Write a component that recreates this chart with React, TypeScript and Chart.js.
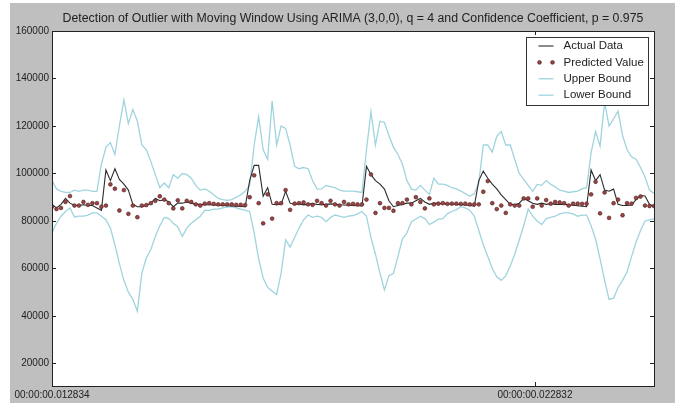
import React, { useEffect, useRef } from "react";
import { Chart, registerables } from "chart.js";

Chart.register(...registerables);

const TITLE =
  "Detection of Outlier with Moving Window Using ARIMA (3,0,0), q = 4 and Confidence Coefficient, p = 0.975";
const SERIES_NAMES = ["Actual Data", "Predicted Value", "Upper Bound", "Lower Bound"];
const X_TICK_POSITIONS = [0, 107.5];
const X_TICK_LABELS = ["00:00:00.012834", "00:00:00.022832"];
const Y_TICKS = [20000, 40000, 60000, 80000, 100000, 120000, 140000, 160000];
const Y_MIN = 10500;
const Y_MAX = 160000;

const actual = [
  87000, 85500, 87000, 89500, 87500, 86500, 86500, 86800, 86500, 86500,
  85500, 84500, 101500, 97000, 102000, 97500, 95500, 93000, 87000, 86000,
  86000, 86500, 87500, 89500, 88500, 89000, 88000, 86000, 87500, 87500,
  88000, 87500, 87000, 87000, 86800, 86800, 86700, 86600, 86500, 86400,
  86300, 86200, 86100, 86000, 97000, 103400, 103400, 90400, 94000, 87000,
  86800, 87000, 92500, 87500, 87000, 87200, 86800, 87000, 87300, 87000,
  86800, 87000, 87200, 87000, 86800, 86700, 86600, 86500, 86400, 86300,
  103000, 99500, 97000, 95500, 93400, 88500, 86000, 86500, 87000, 87500,
  87500, 88500, 89500, 88000, 87000, 87500, 87300, 87300, 87200, 87100,
  87000, 86900, 86700, 86500, 86200, 97000, 101000, 98000, 95500, 93500,
  91000, 89000, 87000, 86800, 87500, 89500, 88500, 87500, 87000, 87500,
  87000, 87300, 87000, 87000, 87000, 86800, 86600, 86400, 86200, 86000,
  101500, 97000, 99500, 93000, 92500, 93400, 87000, 86500, 86500, 86700,
  89000, 90700, 90500, 87000, 86000,
];

const predicted = [
  86000, 85000, 85500, 88000, 90500, 86500, 86500, 88000, 86800, 87500,
  87500, 86000, 86500, 95400, 93600, 84400, 93000, 83000, 86500, 81600,
  86500, 86700, 87500, 88500, 90400, 89000, 87500, 85300, 88700, 85300,
  88500, 88000, 87000, 86500, 87300, 87500, 87200, 87000, 87000, 87000,
  87000, 86800, 86800, 86700, 90000, 99200, 87500, 79000, 91200, 81000,
  87500, 87500, 93000, 84700, 87300, 87500, 87800, 87000, 86800, 88500,
  87500, 86500, 88500, 87000, 86500, 88000, 87000, 87200, 87000, 87000,
  89000, 99600, 83400, 87500, 85500, 85500, 84300, 87500, 87500, 89000,
  87000, 90000, 88000, 85300, 89500, 87000, 87300, 87500, 87200, 87300,
  87300, 87200, 87300, 87000, 87000, 87000, 92300, 96800, 87500, 85000,
  86500, 83400, 87000, 86500, 86500, 89500, 89500, 86000, 89500, 86500,
  88800, 87300, 88000, 87800, 87500, 86500, 87300, 87300, 87200, 87300,
  91200, 96500, 83200, 92000, 81300, 87500, 89000, 82400, 87500, 87300,
  89700, 90300, 86500, 86300, 86300,
];

const upperBound = [
  97000, 93500, 92500, 92000, 92000, 93000, 92500, 93000, 93000, 92500,
  92500, 104000, 111000, 113000, 108000, 120000, 131000, 121000, 127000, 122000,
  112000, 110000, 105000, 99500, 94000, 96000, 94000, 99500, 98000, 100000,
  99500, 98000, 95000, 93000, 93500, 92500, 91000, 89500, 89000, 88700,
  89000, 90000, 91000, 92500, 95000, 112000, 124000, 110000, 106000, 130500,
  112000, 120000, 119000, 112000, 103000, 102000, 102500, 102000, 97000, 93400,
  93500, 95000, 94500, 94000, 93000, 92600, 92600, 92600, 92300, 92000,
  110000, 126000, 112000, 122000, 121500, 116000, 111000, 108000, 104000, 97000,
  93400, 93000, 95000, 93000, 91200, 98000, 95500, 95500, 95000, 94000,
  93500, 92600, 91500, 90400, 91500, 96000, 112000, 112000, 109000, 115600,
  117700, 112000, 112000, 106000, 100000, 97500, 95000, 92500, 95400, 95000,
  97000, 95500, 94300, 93000, 92600, 92000, 92300, 92600, 93500, 94000,
  108700, 117700, 111500, 130000, 120000, 123000, 126300, 116000, 110000, 107000,
  106000, 102500, 98500, 93000, 91600,
];

const lowerBound = [
  75000, 79000, 82000, 84000, 85500, 81700, 82000, 82000, 82500, 83400,
  83400, 82000, 80500, 77000, 70000, 62000, 55000, 50000, 47000, 42000,
  58000, 64500, 68000, 73500, 78000, 81500, 81000, 79000, 77500, 73500,
  77000, 79000, 80500, 82000, 84500, 84500, 85000, 85000, 85500, 85800,
  86000, 85500, 85000, 84500, 84000, 75000, 64000, 56000, 52000, 50500,
  49000, 58000, 72000, 69000, 73000, 77000, 80500, 82500, 81500, 82000,
  81500, 79700, 81500, 82500, 82000, 81500, 82000, 82300, 83000, 84000,
  82000, 73000, 66000, 58000, 51000, 57000, 58000, 65000, 72500, 75000,
  79700, 80800, 82000, 81000, 78500, 79500, 80800, 81000, 83000, 84000,
  84800, 86000, 85500, 84500, 82000, 76000, 70000, 65000, 60000, 56500,
  55000, 57000, 61000, 66000, 72000, 78000, 85000, 82000, 80000, 78500,
  81000, 81500, 82000, 83000, 83400, 83400, 83000, 82000, 82500, 82500,
  78000, 72300, 64000, 55000, 47000, 47500, 52000, 55000, 58500, 65000,
  71000, 76000, 80000, 80500, 81000,
];

const W = 675;
const H = 403;
const FONT = "'Liberation Sans', Arial, Helvetica, sans-serif";
const FIG_BG = "#bfbfbf";
const TEXT_COLOR = "#222222";
const ACTUAL_COLOR = "#2b2b2b";
const PRED_FILL = "#9b4444";
const PRED_EDGE = "#4a1c1c";
const BOUND_COLOR = "#9fd4de";

const figurePlugin = {
  id: "figurePlugin",
  beforeDraw(chart: any) {
    const ctx = chart.ctx;
    const a = chart.chartArea;
    ctx.save();
    ctx.fillStyle = "#ffffff";
    ctx.fillRect(0, 0, W, H);
    ctx.fillStyle = FIG_BG;
    ctx.fillRect(10, 3, W - 10, H - 3);
    ctx.fillStyle = "#ffffff";
    ctx.fillRect(a.left, a.top, a.right - a.left, a.bottom - a.top);
    ctx.restore();
  },
  afterDraw(chart: any) {
    const ctx = chart.ctx;
    const a = chart.chartArea;
    const xs = chart.scales.x;
    const ys = chart.scales.y;
    ctx.save();
    ctx.strokeStyle = "#222222";
    ctx.lineWidth = 1;
    ctx.strokeRect(Math.round(a.left) + 0.5, Math.round(a.top) + 0.5, Math.round(a.right - a.left), Math.round(a.bottom - a.top));
    ctx.beginPath();
    Y_TICKS.forEach((v) => {
      const y = Math.round(ys.getPixelForValue(v)) + 0.5;
      ctx.moveTo(a.left, y);
      ctx.lineTo(a.left + 4, y);
      ctx.moveTo(a.right, y);
      ctx.lineTo(a.right - 4, y);
    });
    X_TICK_POSITIONS.forEach((v) => {
      const x = Math.round(xs.getPixelForValue(v)) + 0.5;
      ctx.moveTo(x, a.bottom);
      ctx.lineTo(x, a.bottom - 4);
      ctx.moveTo(x, a.top);
      ctx.lineTo(x, a.top + 4);
    });
    ctx.stroke();
    ctx.fillStyle = TEXT_COLOR;
    ctx.font = `12.3px ${FONT}`;
    ctx.textAlign = "center";
    ctx.textBaseline = "middle";
    ctx.fillText(TITLE, (a.left + a.right) / 2, 19);
    const boxW = 122;
    const boxH = 68;
    const bx = Math.round(a.right - 6 - boxW) + 0.5;
    const by = Math.round(a.top + 6) + 0.5;
    ctx.fillStyle = "#ffffff";
    ctx.fillRect(bx, by, boxW, boxH);
    ctx.strokeStyle = "#333333";
    ctx.strokeRect(bx, by, boxW, boxH);
    const ds = chart.data.datasets;
    ds.forEach((d: any, i: number) => {
      const cy = by + 8.5 + i * 16.4;
      const hx0 = bx + 13;
      const hx1 = bx + 26;
      if (d.showLine === false) {
        [hx0, hx1].forEach((px) => {
          ctx.beginPath();
          ctx.arc(px, cy, 1.9, 0, Math.PI * 2);
          ctx.fillStyle = PRED_FILL;
          ctx.fill();
          ctx.lineWidth = 0.6;
          ctx.strokeStyle = PRED_EDGE;
          ctx.stroke();
        });
      } else {
        ctx.beginPath();
        ctx.moveTo(hx0 - 1, cy);
        ctx.lineTo(hx1 + 1, cy);
        ctx.lineWidth = d.borderWidth;
        ctx.strokeStyle = d.borderColor;
        ctx.stroke();
      }
      ctx.fillStyle = TEXT_COLOR;
      ctx.font = `11.5px ${FONT}`;
      ctx.textAlign = "left";
      ctx.textBaseline = "middle";
      ctx.fillText(d.label, bx + 37, cy);
    });
    ctx.restore();
  },
};

export default function App() {
  const ref = useRef<HTMLCanvasElement>(null);
  useEffect(() => {
    const toPts = (arr: number[]) => arr.map((v, i) => ({ x: i, y: v }));
    const n = actual.length;
    const chart = new Chart(ref.current as HTMLCanvasElement, {
      type: "line",
      data: {
        datasets: [
          {
            label: SERIES_NAMES[0],
            data: toPts(actual),
            borderColor: ACTUAL_COLOR,
            borderWidth: 1.1,
            pointRadius: 0,
            tension: 0,
            order: 1,
          },
          {
            label: SERIES_NAMES[1],
            data: toPts(predicted),
            showLine: false,
            pointRadius: 1.9,
            pointBackgroundColor: PRED_FILL,
            pointBorderColor: PRED_EDGE,
            pointBorderWidth: 0.6,
            order: 0,
          },
          {
            label: SERIES_NAMES[2],
            data: toPts(upperBound),
            borderColor: BOUND_COLOR,
            borderWidth: 1.3,
            pointRadius: 0,
            tension: 0,
            order: 2,
          },
          {
            label: SERIES_NAMES[3],
            data: toPts(lowerBound),
            borderColor: BOUND_COLOR,
            borderWidth: 1.3,
            pointRadius: 0,
            tension: 0,
            order: 3,
          },
        ] as any,
      },
      options: {
        responsive: false,
        animation: false,
        events: [],
        layout: { padding: { top: 31, right: 21, left: 0, bottom: 0 } },
        plugins: {
          legend: { display: false },
          title: { display: false },
          tooltip: { enabled: false },
        },
        scales: {
          x: {
            type: "linear",
            min: 0,
            max: n - 1,
            grid: { display: false, drawTicks: false },
            border: { display: false },
            afterBuildTicks: (s: any) => {
              s.ticks = X_TICK_POSITIONS.map((v) => ({ value: v }));
            },
            afterFit: (s: any) => {
              s.height = H - 386;
            },
            ticks: {
              autoSkip: false,
              maxRotation: 0,
              padding: 3,
              color: TEXT_COLOR,
              font: { family: FONT, size: 10 },
              callback: (v: any) => X_TICK_LABELS[X_TICK_POSITIONS.indexOf(Number(v))] ?? "",
            },
          },
          y: {
            type: "linear",
            min: Y_MIN,
            max: Y_MAX,
            grid: { display: false, drawTicks: false },
            border: { display: false },
            afterBuildTicks: (s: any) => {
              s.ticks = Y_TICKS.map((v) => ({ value: v }));
            },
            afterFit: (s: any) => {
              s.width = 52;
            },
            ticks: {
              padding: 3,
              color: TEXT_COLOR,
              font: { family: FONT, size: 10 },
              callback: (v: any) => String(v),
            },
          },
        },
      } as any,
      plugins: [figurePlugin],
    });
    return () => chart.destroy();
  }, []);
  return (
    <div style={{ position: "absolute", left: 0, top: 0, width: W, height: H }}>
      <canvas ref={ref} width={W} height={H} style={{ display: "block" }} />
    </div>
  );
}
